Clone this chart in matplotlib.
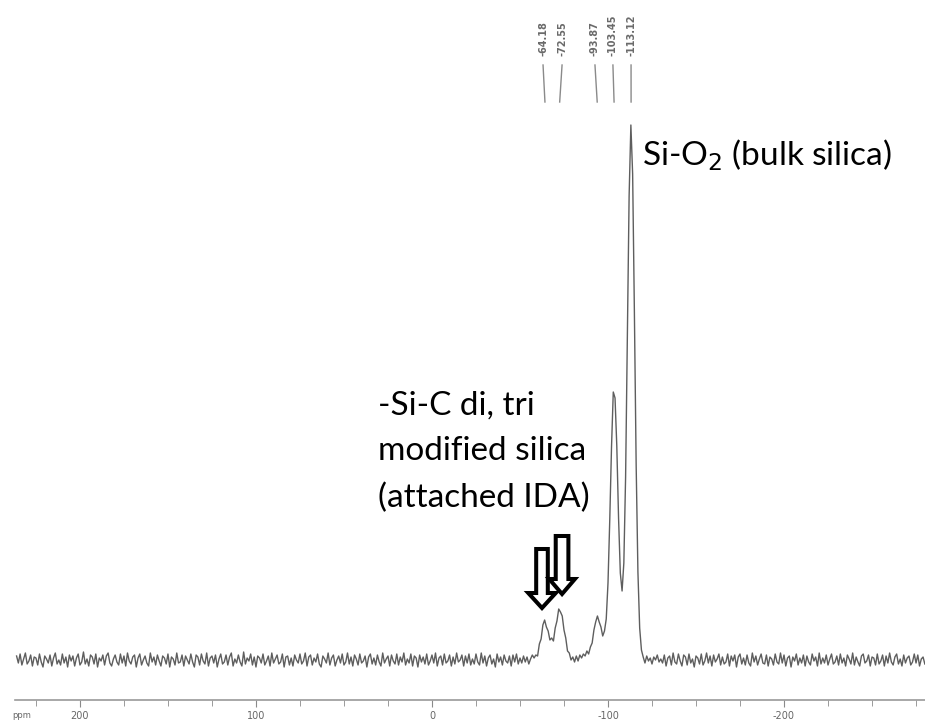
import numpy as np
import matplotlib.pyplot as plt
from matplotlib.patches import FancyArrow

# 29Si NMR spectrum, intensity in arbitrary units (baseline = 0)
ppm_left = np.arange(236, -50, -1)
noise_left = [4, -3, 6, -5, 1, 7, -4, -1, 5, -6, 3, 2, -5, 6, -2, -7, 4, 1, -3, 5,
              -6, 2, 7, -4, 0, -5, 6, -3, 3, -7, 5, -1, 4, -6, 2, 6, -5, -2, 8, -4,
              1, -6, 5, 3, -4, 6, -7, 2, -1, 5, -5, 4, 7, -3, -6, 1, 5, -2, -5, 6,
              -3, 4, -6, 7, -1, -4, 3, 5, -7, 2, 6, -5, 0, 4, -3, -6, 7, -2, 3, -5,
              5, -1, -6, 4, 2, -4, 6, -7, 3, 1, -5, 7, -3, -2, 5, -6, 4, 0, -4, 6,
              -2, -7, 5, 3, -5, 6, -1, -4, 7, -6, 2, 4, -3, 5, -7, 1, 6, -4, -2, 5,
              -5, 3, 7, -6, 1, -3, 5, -2, -6, 8, -4, 2, -1, 6, -5, 3, -7, 4, 2, -3,
              6, -5, -1, 4, -6, 7, -3, 1, 5, -4, -2, 6, -7, 3, 4, -5, 2, -6, 5, 0,
              -3, 6, -4, -1, 7, -6, 3, 5, -5, 2, -2, 6, -4, -7, 4, 1, -3, 7, -5, 2,
              5, -6, 0, 4, -3, 6, -5, -2, 7, -4, 3, -6, 5, 1, -5, 6, -3, -1, 4, -7,
              3, 6, -4, 2, -5, 5, -2, -6, 7, -3, 1, 4, -6, 5, -1, -4, 6, -5, 3, -2,
              7, -5, 1, -3, 6, -6, 4, 2, -7, 5, -2, 3, -4, 6, -5, -1, 5, -3, 7, -6,
              2, 4, -5, 6, -3, -1, 5, -6, 3, -4, 7, -2, 0, 5, -6, 4, -3, 6, -5, 1,
              -4, 6, -2, -5, 7, -3, 4, -6, 2, 5, -4, 1, -7, 6, -2, 3, -5, 5, -1, -3,
              4, -6, 5, -2, 6, -4]

ppm_peaks = np.arange(-50, -131, -1)
signal_peaks = [2, -3, 4, -2, 3, -4, 1, 5, 2, 5,             # -50 .. -59
                4, 16, 21, 35, 40, 33, 29, 20, 22, 19,        # -60 .. -69
                32, 39, 51, 48, 44, 30, 22, 9, 7, 0,          # -70 .. -79
                3, -2, 4, -1, 5, 2, 6, 4, 9, 6,               # -80 .. -89
                13, 17, 30, 38, 44, 38, 33, 24, 29, 41,       # -90 .. -99
                77, 140, 213, 268, 262, 214, 142, 87, 69, 97, # -100 .. -109
                183, 321, 464, 535, 486, 347, 195, 88, 32, 10,  # -110 .. -119
                3, -3, 4, -1, 2, -4, 3, 0, 5, -2,             # -120 .. -129
                1]

ppm_right = np.arange(-131, -281, -1)
noise_right = [-3, 5, -6, 2, 4, -5, 7, -2, -4, 6, -1, -6, 5, 3, -5, 6, -3, 1, -7, 4,
               2, -4, 6, -5, -1, 7, -3, 4, -6, 5, -2, 1, 6, -5, 3, -4, -2, 6, -6, 4,
               -1, 5, -7, 3, 6, -4, 2, -5, 5, -3, -6, 7, -2, 4, -5, 1, 6, -3, -4, 5,
               -6, 3, 1, -5, 6, -2, -4, 7, -3, 5, -6, 2, 4, -7, 3, -1, 6, -5, 2, -3,
               5, -6, 4, -2, -5, 6, -1, 3, -6, 7, -4, 2, -3, 5, -5, 1, 6, -4, -2, 4,
               -5, 6, -3, 2, -6, 5, 1, -4, 7, -5, 3, -2, -6, 4, 6, -3, -1, 5, -6, 3,
               2, -5, 6, -4, -1, 5, -6, 4, -3, 7, -2, -5, 3, 6, -4, 1, -6, 5, -3, 2,
               4, -5, -2, 6, -3, 5, -6, 1, 3, -4]

peak_labels = ["-64.18", "-72.55", "-93.87", "-103.45", "-113.12"]
peak_ppm = [-64.18, -72.55, -93.87, -103.45, -113.12]
label_ppm = [-63.1, -73.9, -92.6, -102.8, -113.1]

major_ticks = [200, 100, 0, -100, -200]
major_labels = ["200", "100", "0", "-100", "-200"]

ppm = np.concatenate([ppm_left, ppm_peaks, ppm_right])
intensity = np.concatenate([noise_left, signal_peaks, noise_right])

fig = plt.figure(figsize=(9.25, 7.24), dpi=100)
ax = fig.add_axes([15 / 925, 24 / 724, 910 / 925, 700 / 724])

ax.plot(ppm, intensity, color="#5e5e5e", lw=1.0)
ax.set_xlim(236.9, -280.1)
ax.set_ylim(-40, 660)

for s in ["top", "left", "right"]:
    ax.spines[s].set_visible(False)
ax.spines["bottom"].set_color("#9a9a9a")
ax.spines["bottom"].set_linewidth(1.2)
ax.set_yticks([])
ax.set_xticks(major_ticks)
ax.set_xticklabels(major_labels)
ax.set_xticks(np.arange(225, -281, -25), minor=True)
ax.tick_params(axis="x", which="both", direction="out", colors="#8a8a8a",
               labelcolor="#666666", labelsize=7, pad=3)
ax.tick_params(axis="x", which="major", length=5)
ax.tick_params(axis="x", which="minor", length=4)
fig.text(22 / 925, 1 - 716 / 724, "ppm", fontsize=6, color="#666666",
         ha="center", va="center")

# peak picking labels at the top
for lab, p, lp in zip(peak_labels, peak_ppm, label_ppm):
    ax.text(lp, 604, lab, rotation=90, ha="center", va="bottom", fontsize=7,
            color="#6a6a6a", fontweight="bold")
    ax.plot([lp, p], [595, 558], color="#8a8a8a", lw=1)

# annotations
font = ["Lato", "DejaVu Sans"]
ax.text(-119.3, 495, "Si-O$_2$ (bulk silica)", fontsize=24, family=font,
        color="black", ha="left", va="baseline")
ax.text(30.7, 245, "-Si-C di, tri", fontsize=24, family=font, ha="left", va="baseline")
ax.text(30.7, 200, "modified silica", fontsize=24, family=font, ha="left", va="baseline")
ax.text(30.7, 153, "(attached IDA)", fontsize=24, family=font, ha="left", va="baseline")

# hollow arrows pointing at the two small peaks
arr1 = FancyArrow(-62.5, 111, 0, -59, width=6.6, head_width=15.6, head_length=15,
                  length_includes_head=True, facecolor="white", edgecolor="black",
                  lw=2.9, zorder=5)
arr2 = FancyArrow(-73.9, 124, 0, -58, width=7.2, head_width=14.6, head_length=15,
                  length_includes_head=True, facecolor="white", edgecolor="black",
                  lw=2.9, zorder=6)
ax.add_patch(arr1)
ax.add_patch(arr2)

fig.savefig("out.png", dpi=100)
